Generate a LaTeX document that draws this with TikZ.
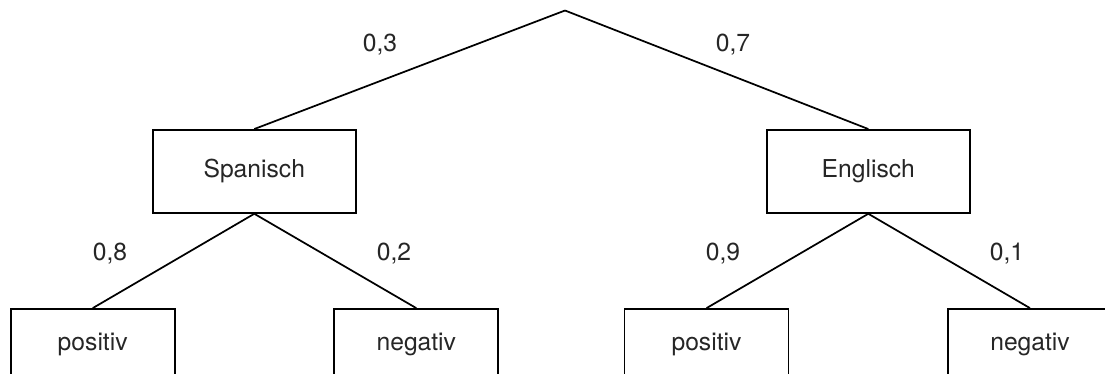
\documentclass[tikz,border=0pt]{standalone}
\usepackage{fontspec}
\setmainfont{TeX Gyre Heros}
\tikzset{
  boxnode/.style={draw, line width=1.3pt, minimum width=203pt*0.75, minimum height=83pt*0.75, inner sep=0pt, text=black!85, font=\fontsize{18.5}{22}\selectfont},
  leafnode/.style={boxnode, minimum width=164pt*0.75, minimum height=70pt*0.75},
  probtext/.style={inner sep=0pt, text=black!85, font=\fontsize{18.5}{22}\selectfont},
  branch/.style={line width=1.3pt}
}
\begin{document}
\begin{tikzpicture}[x=0.75pt,y=0.75pt,yscale=-1,xscale=1]
\path[use as bounding box, clip] (0,0) rectangle (1105,374);

%Root point
\coordinate (root) at (565,10.5);
%Shape: Rectangle
\node [boxnode] (spanisch) at (254.3,171.4) {Spanisch};
%Shape: Rectangle
\node [boxnode] (englisch) at (868.3,171.4) {Englisch};
%Shape: Rectangle
\node [leafnode] (sppos) at (92.7,344) {positiv};
\node [leafnode] (spneg) at (416.3,344) {negativ};
\node [leafnode] (enpos) at (706.5,344) {positiv};
\node [leafnode] (enneg) at (1030,344) {negativ};

%Straight Lines
\draw [branch] (root) -- (spanisch.north);
\draw [branch] (root) -- (englisch.north);
\draw [branch] (spanisch.south) -- (sppos.north);
\draw [branch] (spanisch.south) -- (spneg.north);
\draw [branch] (englisch.south) -- (enpos.north);
\draw [branch] (englisch.south) -- (enneg.north);

\node [probtext] (p3) at (380,45) {0,3};
\node [probtext] (p7) at (733,45) {0,7};
\node [probtext] (p8) at (110,254) {0,8};
\node [probtext] (p2) at (394,254) {0,2};
\node [probtext] (p9) at (723,254) {0,9};
\node [probtext] (p1) at (1007,254) {0,1};

\end{tikzpicture}
\end{document}
